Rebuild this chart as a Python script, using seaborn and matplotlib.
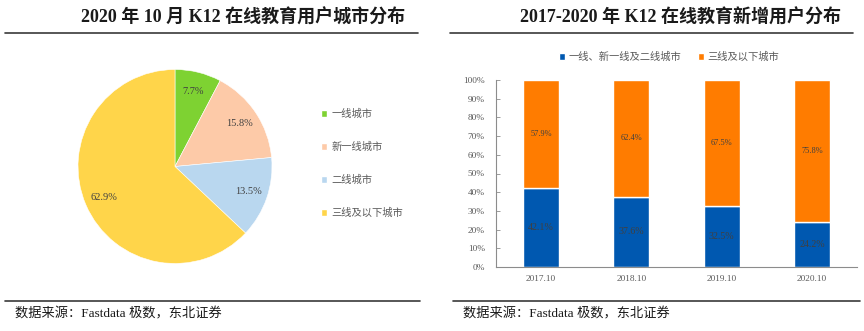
import matplotlib
matplotlib.use("Agg")
import matplotlib.pyplot as plt
import seaborn as sns
import pandas as pd
from matplotlib.lines import Line2D
from matplotlib.patches import Patch

sns.set_style("white")
plt.rcParams["font.family"] = ["Liberation Serif", "Noto Sans CJK SC", "DejaVu Sans"]

# Left panel: city-tier share of K12 online education users, Oct 2020
tier_labels = ["一线城市", "新一线城市", "二线城市", "三线及以下城市"]
tier_share = [7.7, 15.8, 13.5, 62.9]
tier_colors = ["#7ED232", "#FDCAA8", "#B9D7EF", "#FFD54A"]

# Right panel: new-user split by year
years = ["2017.10", "2018.10", "2019.10", "2020.10"]
upper_tiers = [42.1, 37.6, 32.5, 24.2]
lower_tiers = [57.9, 62.4, 67.5, 75.8]
series_names = ["一线、新一线及二线城市", "三线及以下城市"]
bar_colors = ["#0058B0", "#FF7C00"]

W, H = 864, 331
fig = plt.figure(figsize=(W / 100, H / 100), dpi=100)

def fx(px):
    return px / W

def fy(py):
    return 1 - py / H

grey = "#595959"
dark = "#404040"

# Headers and rules
fig.text(fx(243), fy(18), "2020 年 10 月 K12 在线教育用户城市分布", ha="center", va="center",
         fontsize=13, fontweight="bold", color="#1a1a1a")
fig.text(fx(680), fy(18), "2017-2020 年 K12 在线教育新增用户分布", ha="center", va="center",
         fontsize=13, fontweight="bold", color="#1a1a1a")
for x0, x1, y in [(5, 418, 33), (450, 853, 33), (5, 420, 301), (453, 860, 301)]:
    fig.add_artist(Line2D([fx(x0), fx(x1)], [fy(y), fy(y)], color="#3a3a3a", lw=1.2))
for x in (15, 463):
    fig.text(fx(x), fy(314), "数据来源：Fastdata 极数，东北证券", ha="left", va="center",
             fontsize=9.5, color="#1a1a1a")

# Pie chart; the labels show the stated shares
cx, cy, r = 175, 166.5, 97
ax1 = fig.add_axes([fx(cx - r), fy(cy + r), (2 * r) / W, (2 * r) / H])
share_iter = iter(tier_share)
wedges, texts, autotexts = ax1.pie(
    tier_share, colors=tier_colors, startangle=90, counterclock=False,
    autopct=lambda p: f"{next(share_iter):.1f}%", pctdistance=0.8,
    wedgeprops=dict(edgecolor="white", linewidth=0.4),
    textprops=dict(fontsize=7.5, color=dark),
)
ax1.set_xlim(-1, 1)
ax1.set_ylim(-1, 1)
ax1.legend(
    [Patch(facecolor=c) for c in tier_colors], tier_labels,
    loc="center left", bbox_to_anchor=(fx(312), fy(163.5)), bbox_transform=fig.transFigure,
    frameon=False, fontsize=7.4, labelcolor=grey, handlelength=0.6, handleheight=0.6,
    handletextpad=0.4, labelspacing=2.2,
)

# Stacked bar chart
ax2 = fig.add_axes([fx(496), fy(267), fx(857) - fx(496), 187 / H])
df = pd.DataFrame({"year": years, "upper": upper_tiers, "lower": lower_tiers})
sns.barplot(data=df, x="year", y="upper", color=bar_colors[0], width=0.4,
            saturation=1, ax=ax2, order=years)
sns.barplot(data=df, x="year", y="lower", color=bar_colors[1], width=0.4,
            saturation=1, ax=ax2, order=years, bottom=upper_tiers)
for i, (u, l) in enumerate(zip(upper_tiers, lower_tiers)):
    ax2.text(i, u / 2, f"{u:.1f}%", ha="center", va="center", fontsize=7.2, color=dark)
    ax2.text(i, u + l / 2, f"{l:.1f}%", ha="center", va="center", fontsize=6, color=dark)
ax2.set_xlim(-0.5, 3.5)
ax2.set_ylim(0, 100)
ax2.set_yticks(range(0, 101, 10))
ax2.set_yticklabels([f"{v}%" for v in range(0, 101, 10)])
ax2.set_xlabel("")
ax2.set_ylabel("")
for s in ("top", "right"):
    ax2.spines[s].set_visible(False)
for s in ("left", "bottom"):
    ax2.spines[s].set_color("#8c8c8c")
    ax2.spines[s].set_linewidth(0.8)
ax2.tick_params(axis="y", direction="in", length=3, width=0.6, color="#8c8c8c",
                labelsize=6.7, labelcolor=grey, pad=8, left=True)
ax2.tick_params(axis="x", length=0, labelsize=6.7, labelcolor=grey, pad=6)
ax2.legend(
    [Patch(facecolor=c) for c in bar_colors], series_names,
    loc="center left", bbox_to_anchor=(fx(550), fy(57)), bbox_transform=fig.transFigure,
    ncol=2, frameon=False, fontsize=7.4, labelcolor=grey, handlelength=0.6,
    handleheight=0.6, handletextpad=0.3, columnspacing=1.6,
)

fig.savefig("out.png", dpi=100, facecolor="white")
